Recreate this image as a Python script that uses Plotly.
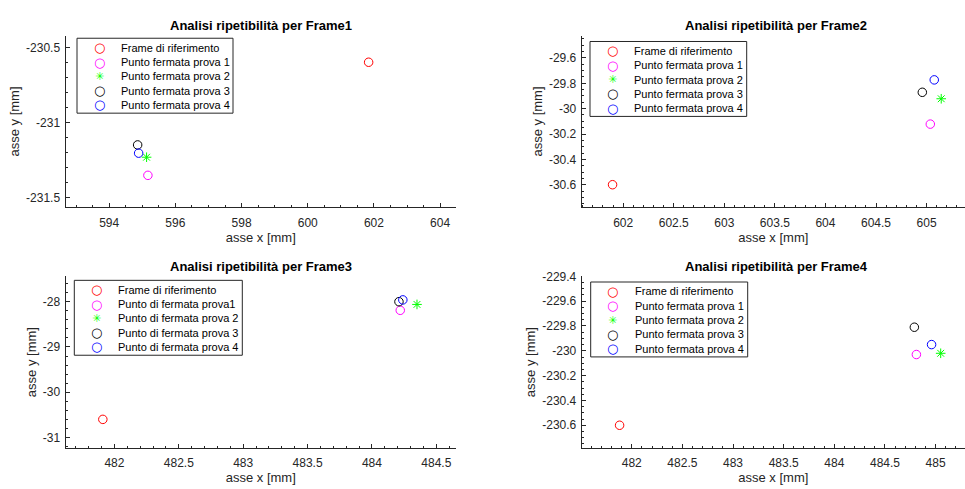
import plotly.graph_objects as go

# ---------------- data ----------------
series_names_a = ["Frame di riferimento", "Punto fermata prova 1", "Punto fermata prova 2",
                  "Punto fermata prova 3", "Punto fermata prova 4"]
series_names_b = ["Frame di riferimento", "Punto di fermata prova1", "Punto di fermata prova 2",
                  "Punto di fermata prova 3", "Punto di fermata prova 4"]
series_colors = ["#FF0000", "#FF00FF", "#00FF00", "#000000", "#0000FF"]
series_symbols = ["circle-open", "circle-open", "asterisk-open", "circle-open", "circle-open"]
legend_glyphs = ["○", "○", "✳", "○", "○"]

titles = ["Analisi ripetibilità per Frame1", "Analisi ripetibilità per Frame2",
          "Analisi ripetibilità per Frame3", "Analisi ripetibilità per Frame4"]

# order: riferimento, prova1, prova2, prova3, prova4
frame1_x = [601.84, 595.17, 595.13, 594.86, 594.89]
frame1_y = [-230.597, -231.352, -231.231, -231.149, -231.204]

frame2_x = [601.895, 605.037, 605.145, 604.958, 605.076]
frame2_y = [-30.6, -30.122, -29.922, -29.871, -29.773]

frame3_x = [481.91, 484.22, 484.35, 484.21, 484.24]
frame3_y = [-30.6, -28.19, -28.06, -28.0, -27.96]

frame4_x = [481.88, 484.81, 485.05, 484.79, 484.96]
frame4_y = [-230.6, -230.03, -230.02, -229.81, -229.95]

# tick values
f1_xticks = [594, 596, 598, 600, 602, 604]
f1_yticks = [-231.5, -231, -230.5]
f2_xticks = [602, 602.5, 603, 603.5, 604, 604.5, 605]
f2_yticks = [-30.6, -30.4, -30.2, -30, -29.8, -29.6]
f3_xticks = [482, 482.5, 483, 483.5, 484, 484.5]
f3_yticks = [-31, -30, -29, -28]
f4_xticks = [482, 482.5, 483, 483.5, 484, 484.5, 485]
f4_yticks = [-230.6, -230.4, -230.2, -230, -229.8, -229.6, -229.4]

# ---------------- layout helpers ----------------
W, H = 965, 489
FONT = "Liberation Sans, Arial, Helvetica, sans-serif"
AX = "#262626"

def px_x(p):
    return p / W

def px_y(p):
    return 1 - p / H

def fmt(v):
    return f"{v:g}"

panels = [
    dict(x=frame1_x, y=frame1_y, names=series_names_a, xt=f1_xticks, yt=f1_yticks,
         xr=[592.68, 604.48], yr=[-231.566, -230.419], xm=0.5, ym=0.1,
         dom_x=[65.5, 456], dom_y=[29, 203.3], leg=(77, 31.7, 156), tcy=18.3),
    dict(x=frame2_x, y=frame2_y, names=series_names_a, xt=f2_xticks, yt=f2_yticks,
         xr=[601.59, 605.38], yr=[-30.779, -29.4235], xm=0.1, ym=0.05,
         dom_x=[581.7, 965], dom_y=[29, 203.3], leg=(590, 35, 156.7), tcy=18.3),
    dict(x=frame3_x, y=frame3_y, names=series_names_b, xt=f3_xticks, yt=f3_yticks,
         xr=[481.62, 484.653], yr=[-31.235, -27.434], xm=0.1, ym=0.2,
         dom_x=[65.5, 456], dom_y=[273, 447.5], leg=(74.3, 277.3, 168), tcy=263.3),
    dict(x=frame4_x, y=frame4_y, names=series_names_a, xt=f4_xticks, yt=f4_yticks,
         xr=[481.506, 485.29], yr=[-230.784, -229.398], xm=0.1, ym=0.05,
         dom_x=[581.7, 965], dom_y=[273, 447.5], leg=(590.7, 279, 157), tcy=263.3),
]

LEG_ROW = 14.5
LEG_H = 76
LEG_FIRST = 9.6

fig = go.Figure()
layout = dict(
    width=W, height=H,
    margin=dict(l=0, r=0, t=0, b=0),
    paper_bgcolor="white", plot_bgcolor="white",
    font=dict(family=FONT, color=AX, size=11),
    showlegend=False,
    annotations=[], shapes=[],
)

for i, p in enumerate(panels):
    n = i + 1
    xa = "x" if n == 1 else f"x{n}"
    ya = "y" if n == 1 else f"y{n}"
    for k in range(5):
        fig.add_trace(go.Scatter(
            x=[p["x"][k]], y=[p["y"][k]], mode="markers", name=p["names"][k],
            xaxis=xa, yaxis=ya,
            marker=dict(symbol=series_symbols[k], size=8.5 if k != 2 else 8,
                        color=series_colors[k], line=dict(color=series_colors[k], width=1)),
        ))
    common = dict(showline=True, linecolor=AX, linewidth=1, mirror=False, showgrid=False,
                  zeroline=False, ticks="inside", ticklen=4, tickcolor=AX, tickwidth=1,
                  tickfont=dict(family=FONT, size=12, color=AX), tickmode="array")
    xkey = "xaxis" if n == 1 else f"xaxis{n}"
    ykey = "yaxis" if n == 1 else f"yaxis{n}"
    layout[xkey] = dict(common, domain=[px_x(p["dom_x"][0]), px_x(p["dom_x"][1])],
                        range=p["xr"], anchor=ya, tickvals=p["xt"],
                        ticktext=[fmt(v) for v in p["xt"]], ticklabelstandoff=4,
                        minor=dict(tickmode="linear", tick0=p["xt"][0], dtick=p["xm"],
                                   ticks="inside", ticklen=2, tickcolor=AX, showgrid=False),
                        title=dict(text="asse x [mm]", font=dict(family=FONT, size=13, color=AX),
                                   standoff=3))
    layout[ykey] = dict(common, domain=[px_y(p["dom_y"][1]), px_y(p["dom_y"][0])],
                        range=p["yr"], anchor=xa, tickvals=p["yt"],
                        ticktext=[fmt(v) for v in p["yt"]], ticklabelstandoff=2,
                        minor=dict(tickmode="linear", tick0=p["yt"][0], dtick=p["ym"],
                                   ticks="inside", ticklen=2, tickcolor=AX, showgrid=False),
                        title=dict(text="asse y [mm]", font=dict(family=FONT, size=13, color=AX),
                                   standoff=3))
    # legend box (drawn as a framed box with entries)
    lx, ly, lw = p["leg"]
    layout["shapes"].append(dict(type="rect", xref="paper", yref="paper",
                                 x0=px_x(lx), x1=px_x(lx + lw), y0=px_y(ly + LEG_H), y1=px_y(ly),
                                 line=dict(color=AX, width=1), fillcolor="white", layer="above"))
    for k in range(5):
        ry = ly + LEG_FIRST + k * LEG_ROW
        layout["annotations"].append(dict(
            text=legend_glyphs[k], x=px_x(lx + 22), y=px_y(ry), xref="paper", yref="paper",
            showarrow=False, xanchor="center", yanchor="middle",
            font=dict(family="DejaVu Sans", size=13 if k != 2 else 11, color=series_colors[k])))
        layout["annotations"].append(dict(
            text=p["names"][k], x=px_x(lx + 42), y=px_y(ry), xref="paper", yref="paper",
            showarrow=False, xanchor="left", yanchor="middle",
            font=dict(family=FONT, size=11, color="#000000")))
    cx = (p["dom_x"][0] + 970.7) / 2 if n % 2 == 0 else (p["dom_x"][0] + p["dom_x"][1]) / 2
    layout["annotations"].append(dict(
        text="<b>" + titles[i] + "</b>", x=px_x(cx), y=px_y(p["tcy"]),
        xref="paper", yref="paper", showarrow=False, xanchor="center", yanchor="middle",
        font=dict(family=FONT, size=13, color="#000000")))

fig.update_layout(**layout)
fig.write_html("out.html")
